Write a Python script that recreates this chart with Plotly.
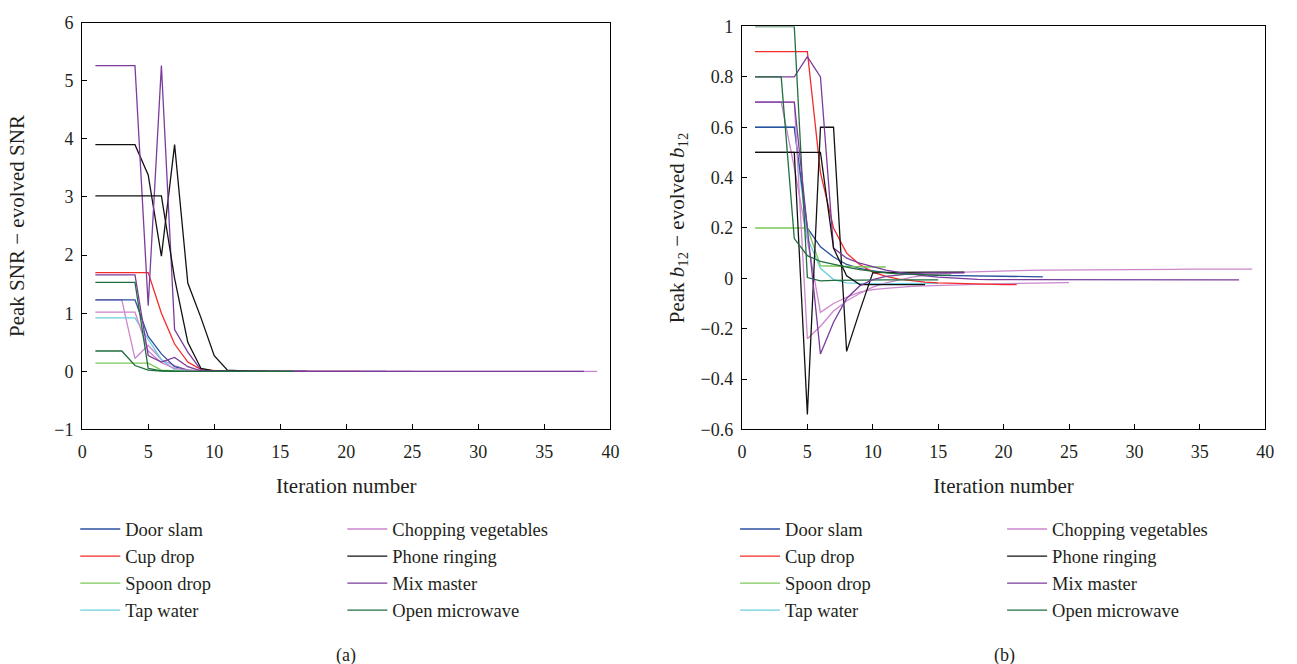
import plotly.graph_objects as go

# ---- (a) Peak SNR minus evolved SNR per iteration ----
door_snr = [1.23, 1.23, 1.23, 1.23, 0.60, 0.30, 0.08, 0.02, 0.005, 0.002, 0.001, 0.0, 0.0, 0.0, 0.0,
            0.0, 0.0, 0.0, 0.0, 0.0, 0.0, 0.0, 0.0]
cup_snr = [1.70, 1.70, 1.70, 1.70, 1.70, 1.00, 0.47, 0.16, 0.03, 0.01, 0.003, 0.0, 0.0, 0.0, 0.0,
           0.0, 0.0, 0.0, 0.0, 0.0, 0.0]
spoon_snr = [0.14, 0.14, 0.14, 0.14, 0.14, 0.02, 0.005, 0.001, 0.0, 0.0, 0.0]
tap_snr = [0.92, 0.92, 0.92, 0.92, 0.55, 0.20, 0.03, 0.005, 0.001, 0.0, 0.0, 0.0, 0.0, 0.0, 0.0]
chop_snr = [1.02, 1.02, 1.02, 1.02, 0.35, 0.15, 0.05, 0.02, 0.005, 0.002, 0.001, 0.0, 0.0, 0.0, 0.0,
            0.0, 0.0, 0.0, 0.0, 0.0, 0.0, 0.0, 0.0, 0.0, 0.0, 0.0, 0.0, 0.0, 0.0, 0.0,
            0.0, 0.0, 0.0, 0.0, 0.0, 0.0, 0.0, 0.0, 0.0]
phone_snr = [3.90, 3.90, 3.90, 3.90, 3.38, 1.98, 3.90, 1.52, 0.92, 0.27, 0.02, 0.005, 0.0, 0.0,
             0.0, 0.0, 0.0]
mix_snr = [5.26, 5.26, 5.26, 5.26, 1.13, 5.26, 0.72, 0.33, 0.02, 0.005, 0.0, 0.0, 0.0, 0.0, 0.0,
           0.0, 0.0, 0.0, 0.0, 0.0, 0.0, 0.0, 0.0, 0.0, 0.0, 0.0, 0.0, 0.0, 0.0, 0.0,
           0.0, 0.0, 0.0, 0.0, 0.0, 0.0, 0.0, 0.0]
micro_snr = [1.53, 1.53, 1.53, 1.53, 0.05, 0.01, 0.002, 0.0, 0.0, 0.0, 0.0, 0.0, 0.0, 0.0, 0.0]
# additional runs drawn with the same colours
phone2_snr = [3.02, 3.02, 3.02, 3.02, 3.02, 3.02, 1.60, 0.50, 0.05, 0.01, 0.0, 0.0, 0.0, 0.0]
mix2_snr = [1.66, 1.66, 1.66, 1.66, 0.27, 0.16, 0.24, 0.08, 0.01, 0.0, 0.0, 0.0, 0.0, 0.0, 0.0,
            0.0, 0.0]
micro2_snr = [0.35, 0.35, 0.35, 0.10, 0.02, 0.005, 0.0, 0.0, 0.0, 0.0, 0.0, 0.0, 0.0, 0.0, 0.0, 0.0]
chop2_snr = [1.23, 1.23, 1.23, 0.22, 0.45, 0.20, 0.10, 0.02, 0.005, 0.0, 0.0, 0.0, 0.0, 0.0, 0.0,
             0.0, 0.0, 0.0, 0.0, 0.0, 0.0, 0.0, 0.0, 0.0, 0.0]

# ---- (b) Peak b12 minus evolved b12 per iteration ----
door_b = [0.6, 0.6, 0.6, 0.6, 0.2, 0.125, 0.085, 0.055, 0.04, 0.03, 0.024, 0.02, 0.017, 0.014,
          0.012, 0.011, 0.01, 0.009, 0.008, 0.007, 0.007, 0.006, 0.006]
cup_b = [0.9, 0.9, 0.9, 0.9, 0.9, 0.42, 0.2, 0.1, 0.055, 0.025, 0.008, -0.003, -0.01, -0.015,
         -0.018, -0.02, -0.022, -0.023, -0.024, -0.025, -0.025]
spoon_b = [0.2, 0.2, 0.2, 0.2, 0.2, 0.05, 0.048, 0.047, 0.046, 0.045, 0.045]
tap_b = [0.6, 0.6, 0.6, 0.6, 0.16, 0.04, -0.005, -0.018, -0.02, -0.021, -0.021, -0.021, -0.02,
         -0.02, -0.02]
chop_b = [0.7, 0.7, 0.7, 0.7, -0.24, -0.19, -0.13, -0.09, -0.06, -0.035, -0.018, -0.005, 0.005,
          0.012, 0.018, 0.022, 0.025, 0.027, 0.029, 0.030, 0.031, 0.032, 0.033, 0.033, 0.034,
          0.034, 0.035, 0.035, 0.035, 0.036, 0.036, 0.036, 0.036, 0.037, 0.037, 0.037, 0.037,
          0.037, 0.037]
phone_b = [0.5, 0.5, 0.5, 0.5, -0.54, 0.6, 0.6, -0.29, -0.13, 0.022, 0.024, 0.025, 0.025, 0.025,
           0.025, 0.025, 0.025]
mix_b = [0.8, 0.8, 0.8, 0.8, 0.88, 0.8, 0.12, 0.08, 0.06, 0.045, 0.033, 0.024, 0.016, 0.01,
         0.005, 0.001, -0.002, -0.004, -0.005, -0.005, -0.006, -0.006, -0.006, -0.006, -0.006,
         -0.006, -0.006, -0.006, -0.006, -0.006, -0.006, -0.006, -0.006, -0.006, -0.006, -0.006,
         -0.006, -0.006]
micro_b = [1.0, 1.0, 1.0, 1.0, 0.003, -0.01, -0.008, -0.007, -0.006, -0.006, -0.006, -0.006,
           -0.006, -0.006, -0.006]
phone2_b = [0.5, 0.5, 0.5, 0.5, 0.5, 0.5, 0.12, 0.01, -0.025, -0.025, -0.025, -0.025, -0.025,
            -0.025]
mix2_b = [0.7, 0.7, 0.7, 0.7, 0.2, -0.3, -0.174, -0.08, -0.03, -0.005, 0.008, 0.015, 0.019,
          0.021, 0.022, 0.022, 0.022]
micro2_b = [0.8, 0.8, 0.8, 0.158, 0.09, 0.067, 0.055, 0.045, 0.035, 0.028, 0.022, 0.018, 0.016,
            0.014, 0.013, 0.013]
chop2_b = [0.7, 0.7, 0.7, 0.44, 0.16, -0.135, -0.1, -0.075, -0.055, -0.045, -0.04, -0.035,
           -0.032, -0.03, -0.028, -0.026, -0.025, -0.023, -0.022, -0.021, -0.02, -0.019, -0.018,
           -0.018, -0.017]

names = ["Door slam", "Cup drop", "Spoon drop", "Tap water",
         "Chopping vegetables", "Phone ringing", "Mix master", "Open microwave"]
colors = ["#2c4f9e", "#f52a2a", "#7cc85a", "#6ccfe0",
          "#cc86cc", "#111111", "#7a3c9c", "#1f6e3e"]

snr_main = [door_snr, cup_snr, spoon_snr, tap_snr, chop_snr, phone_snr, mix_snr, micro_snr]
b_main = [door_b, cup_b, spoon_b, tap_b, chop_b, phone_b, mix_b, micro_b]
snr_extra = {"chop2": (chop2_snr, 4), "phone2": (phone2_snr, 5), "mix2": (mix2_snr, 6),
             "micro2": (micro2_snr, 7)}
b_extra = {"chop2": (chop2_b, 4), "phone2": (phone2_b, 5), "mix2": (mix2_b, 6),
           "micro2": (micro2_b, 7)}
# drawing order, back to front
draw_order = ["chop2", 3, 0, 1, 2, 4, 5, 6, 7, "phone2", "mix2", "micro2"]

FONT = "Liberation Serif"
TXT = "#231f20"
W, H = 1297, 664
LW = 1.3

fig = go.Figure()


def add_line(y, ci, xa, ya, legend="legend", show=False):
    fig.add_trace(go.Scatter(
        x=list(range(1, len(y) + 1)), y=y, mode="lines",
        line=dict(color=colors[ci], width=LW),
        name=names[ci], xaxis=xa, yaxis=ya,
        showlegend=show, legend=legend, legendrank=ci + 1,
        legendgroup=legend + str(ci), hoverinfo="skip"))


for key in draw_order:
    if isinstance(key, int):
        add_line(snr_main[key], key, "x", "y",
                 legend="legend" if key < 4 else "legend2", show=True)
    else:
        series, ci = snr_extra[key]
        add_line(series, ci, "x", "y")

for key in draw_order:
    if isinstance(key, int):
        add_line(b_main[key], key, "x2", "y2",
                 legend="legend3" if key < 4 else "legend4", show=True)
    else:
        series, ci = b_extra[key]
        add_line(series, ci, "x2", "y2")

axis_common = dict(showline=True, linecolor="black", linewidth=1.3, mirror=True,
                   ticks="inside", ticklen=5, tickwidth=1.2, tickcolor="black",
                   showgrid=False, zeroline=False,
                   tickfont=dict(family=FONT, size=18, color=TXT))
title_font = dict(family=FONT, size=21, color=TXT)

py = lambda p: 1 - p / H
px = lambda p: p / W

fig.update_layout(
    width=W, height=H, margin=dict(l=0, r=0, t=0, b=0),
    paper_bgcolor="white", plot_bgcolor="white",
    xaxis=dict(domain=[px(78), px(612)], range=[0, 40], dtick=5, anchor="y",
               title=dict(text="Iteration number", font=title_font, standoff=17),
               ticklabelstandoff=6, **axis_common),
    yaxis=dict(domain=[py(432.5), py(13)], range=[-1, 6], dtick=1, anchor="x",
               title=dict(text="Peak SNR − evolved SNR", font=title_font, standoff=23),
               ticklabelstandoff=4, **axis_common),
    xaxis2=dict(domain=[px(745), px(1274)], range=[0, 40], dtick=5, anchor="y2",
                title=dict(text="Iteration number", font=title_font, standoff=17),
                ticklabelstandoff=6, **axis_common),
    yaxis2=dict(domain=[py(432.5), py(17)], range=[-0.6, 1], dtick=0.2, anchor="x2",
                title=dict(text="Peak <i>b</i><sub>12</sub> − evolved <i>b</i><sub>12</sub>",
                           font=title_font, standoff=10),
                ticklabelstandoff=4, **axis_common),
)

legend_common = dict(orientation="v", xanchor="left", yanchor="top", bgcolor="rgba(0,0,0,0)",
                     font=dict(family=FONT, size=18.5, color=TXT), tracegroupgap=0,
                     itemwidth=40, traceorder="normal")
fig.update_layout(
    legend=dict(x=px(71), y=py(516), **legend_common),
    legend2=dict(x=px(341), y=py(516), **legend_common),
    legend3=dict(x=px(738), y=py(516), **legend_common),
    legend4=dict(x=px(1008), y=py(516), **legend_common),
)

for label, cx in (("(a)", 345), ("(b)", 1010)):
    fig.add_annotation(text=label, x=px(cx), y=py(666), xref="paper", yref="paper",
                       xanchor="center", yanchor="middle",
                       showarrow=False, font=dict(family=FONT, size=18, color=TXT))

fig.write_html("out.html")
